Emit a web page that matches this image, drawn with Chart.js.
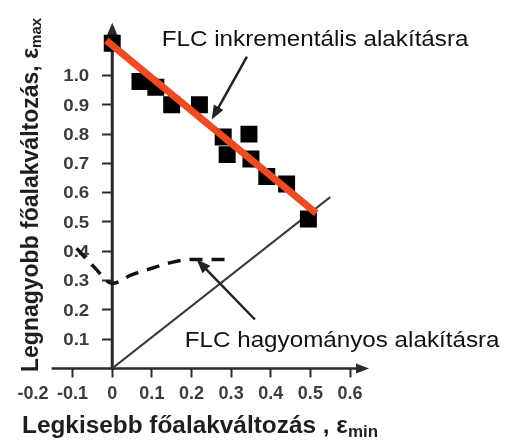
<!DOCTYPE html>
<html>
<head>
<meta charset="utf-8">
<script src="https://cdn.jsdelivr.net/npm/chart.js@4.4.1/dist/chart.umd.min.js"></script>
<style>
  html, body { margin: 0; padding: 0; background: #fff; }
  #wrap { width: 505px; height: 440px; }
</style>
</head>
<body>
<div id="wrap"><canvas id="flcChart"></canvas></div>
<script>
// measured limit strains, incremental forming
var measX = [0, 0.07, 0.11, 0.15, 0.22, 0.28, 0.29, 0.345, 0.35, 0.39, 0.44, 0.495];
var measY = [1.11, 0.98, 0.96, 0.90, 0.90, 0.79, 0.73, 0.80, 0.715, 0.655, 0.63, 0.51];

// fitted FLC for incremental forming
var fitX = [-0.015, 0.515];
var fitY = [1.12, 0.53];

// conventional FLC (dashed)
var convX = [-0.09, -0.045, 0, 0.05, 0.1, 0.15, 0.2, 0.29];
var convY = [0.41, 0.345, 0.29, 0.32, 0.342, 0.362, 0.372, 0.372];

// thin reference line from the origin
var refX = [0, 0.55];
var refY = [0, 0.585];

// axis ticks
var xTickValues = [-0.2, -0.1, 0, 0.1, 0.2, 0.3, 0.4, 0.5, 0.6];
var xTickLabels = ['-0.2', '-0.1', '0', '0.1', '0.2', '0.3', '0.4', '0.5', '0.6'];
var yTickValues = [0.1, 0.2, 0.3, 0.4, 0.5, 0.6, 0.7, 0.8, 0.9, 1.0];
var yTickLabels = ['0.1', '0.2', '0.3', '0.4', '0.5', '0.6', '0.7', '0.8', '0.9', '1.0'];

function toPoints(xs, ys) {
  return xs.map(function(v, i) { return { x: v, y: ys[i] }; });
}

var FONT = "'Liberation Sans', Arial, sans-serif";
var INK = '#1e1e1e';

// callouts with arrows, in data units
var callouts = [
  { text: 'FLC inkrementális alakításra', tx: 0.125, ty: 1.102, from: [0.34, 1.065], to: [0.251, 0.85] },
  { text: 'FLC hagyományos alakításra', tx: 0.183, ty: 0.072, from: [0.36, 0.167], to: [0.213, 0.372] }
];

function arrowHead(ctx, tipX, tipY, angle, len, half) {
  ctx.save();
  ctx.translate(tipX, tipY);
  ctx.rotate(angle);
  ctx.beginPath();
  ctx.moveTo(0, 0);
  ctx.lineTo(-len, -half);
  ctx.lineTo(-len, half);
  ctx.closePath();
  ctx.fill();
  ctx.restore();
}

// text drawn a little wider than the font's natural width
function wideText(ctx, text, x, y, stretch, align) {
  ctx.save();
  ctx.translate(x, y);
  ctx.scale(stretch, 1);
  ctx.textAlign = align || 'left';
  ctx.fillText(text, 0, 0);
  ctx.restore();
  return ctx.measureText(text).width * stretch;
}

// axis lines crossing at the origin, with arrow ends
var axesPlugin = {
  id: 'axesArrows',
  beforeDatasetsDraw: function(chart) {
    var ctx = chart.ctx, xs = chart.scales.x, ys = chart.scales.y;
    var x0 = xs.getPixelForValue(0), y0 = ys.getPixelForValue(0);
    var xStart = xs.getPixelForValue(-0.153), xEnd = xs.getPixelForValue(0.648);
    var yTop = ys.getPixelForValue(1.18);
    ctx.save();
    ctx.strokeStyle = '#2a2a2a';
    ctx.fillStyle = '#2a2a2a';
    ctx.lineWidth = 2.5;
    ctx.beginPath();
    ctx.moveTo(xStart, y0);
    ctx.lineTo(xEnd - 8, y0);
    ctx.stroke();
    arrowHead(ctx, xEnd, y0, 0, 13, 5);
    ctx.lineWidth = 3;
    ctx.beginPath();
    ctx.moveTo(x0, y0 + 1);
    ctx.lineTo(x0, yTop + 8);
    ctx.stroke();
    arrowHead(ctx, x0, yTop, -Math.PI / 2, 13, 5.5);

    // y tick labels, left of the ticks
    ctx.fillStyle = '#3c3c3c';
    ctx.font = 'bold 17px ' + FONT;
    ctx.textBaseline = 'middle';
    yTickValues.forEach(function(v, i) {
      wideText(ctx, yTickLabels[i], x0 - 23, ys.getPixelForValue(v) + 1, 1.1, 'right');
    });
    ctx.restore();
  }
};

// axis titles and callouts
var labelsPlugin = {
  id: 'flcLabels',
  afterDraw: function(chart) {
    var ctx = chart.ctx, xs = chart.scales.x, ys = chart.scales.y;
    ctx.save();
    ctx.fillStyle = INK;
    ctx.textBaseline = 'alphabetic';

    // x title
    ctx.font = 'bold 23px ' + FONT;
    var w = wideText(ctx, 'Legkisebb főalakváltozás , ε', 22, 433, 1.06);
    ctx.font = 'bold 16px ' + FONT;
    wideText(ctx, 'min', 22 + w, 437, 1.06);

    // y title, reading upwards
    ctx.save();
    ctx.translate(38, 372);
    ctx.rotate(-Math.PI / 2);
    var yMain = 'Legnagyobb főalakváltozás, ε';
    ctx.font = 'bold 23px ' + FONT;
    var wy = ctx.measureText(yMain).width;
    ctx.fillText(yMain, 0, 0);
    ctx.font = 'bold 15px ' + FONT;
    ctx.fillText('max', wy, 3);
    ctx.restore();

    // callouts
    ctx.font = '22px ' + FONT;
    ctx.strokeStyle = '#222';
    callouts.forEach(function(c) {
      ctx.fillStyle = '#111';
      wideText(ctx, c.text, xs.getPixelForValue(c.tx), ys.getPixelForValue(c.ty), 1.1);
      var fx = xs.getPixelForValue(c.from[0]), fy = ys.getPixelForValue(c.from[1]);
      var tx = xs.getPixelForValue(c.to[0]), ty = ys.getPixelForValue(c.to[1]);
      var ang = Math.atan2(ty - fy, tx - fx);
      ctx.lineWidth = 2.5;
      ctx.beginPath();
      ctx.moveTo(fx, fy);
      ctx.lineTo(tx - 10 * Math.cos(ang), ty - 10 * Math.sin(ang));
      ctx.stroke();
      ctx.fillStyle = '#222';
      arrowHead(ctx, tx, ty, ang, 14, 5.5);
    });
    ctx.restore();
  }
};

var ctx = document.getElementById('flcChart').getContext('2d');
new Chart(ctx, {
  type: 'scatter',
  data: {
    datasets: [
      {
        label: 'FLC inkrementális',
        data: toPoints(fitX, fitY),
        showLine: true,
        borderColor: '#ee4b24',
        borderWidth: 7,
        pointRadius: 0,
        order: 1
      },
      {
        label: 'mért pontok',
        data: toPoints(measX, measY),
        pointStyle: 'rect',
        pointRadius: 12,
        pointBackgroundColor: '#000',
        pointBorderWidth: 0,
        showLine: false,
        order: 2
      },
      {
        label: 'FLC hagyományos',
        data: toPoints(convX, convY),
        showLine: true,
        borderColor: '#111',
        borderWidth: 3.5,
        borderDash: [13, 9],
        cubicInterpolationMode: 'monotone',
        pointRadius: 0,
        order: 3
      },
      {
        label: 'referencia',
        data: toPoints(refX, refY),
        showLine: true,
        borderColor: '#3a3a3a',
        borderWidth: 2,
        pointRadius: 0,
        order: 4
      }
    ]
  },
  options: {
    responsive: true,
    maintainAspectRatio: false,
    animation: false,
    layout: { padding: { left: 33, right: 155, top: 17, bottom: 29 } },
    plugins: {
      legend: { display: false },
      tooltip: { enabled: false }
    },
    scales: {
      x: {
        type: 'linear',
        position: 'bottom',
        min: -0.2,
        max: 0.6,
        afterBuildTicks: function(scale) {
          scale.ticks = xTickValues.map(function(v) { return { value: v }; });
        },
        ticks: {
          autoSkip: false,
          maxRotation: 0,
          padding: 6,
          color: '#3c3c3c',
          font: { family: FONT, size: 18, weight: 'bold' },
          callback: function(v, i) { return xTickLabels[i]; }
        },
        grid: {
          drawOnChartArea: false,
          tickLength: 9,
          tickWidth: 2,
          tickColor: function(c) { return c.index === 0 ? 'rgba(0,0,0,0)' : '#2a2a2a'; }
        },
        border: { display: false }
      },
      y: {
        type: 'linear',
        position: { x: 0 },
        min: 0,
        max: 1.2,
        afterBuildTicks: function(scale) {
          scale.ticks = yTickValues.map(function(v) { return { value: v }; });
        },
        ticks: { display: false },
        grid: {
          drawOnChartArea: false,
          tickLength: 10,
          tickWidth: 2,
          tickColor: '#2a2a2a'
        },
        border: { display: false }
      }
    }
  },
  plugins: [axesPlugin, labelsPlugin]
});
</script>
</body>
</html>
